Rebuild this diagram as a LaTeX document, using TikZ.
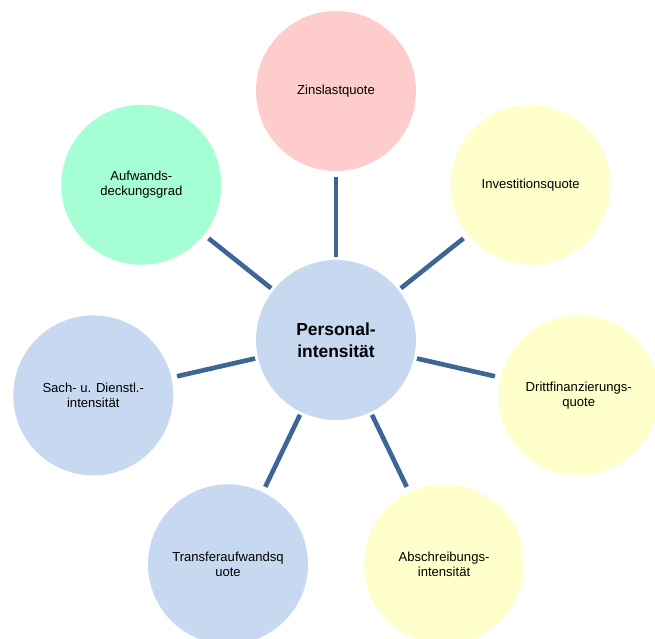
\documentclass[tikz,border=0pt]{standalone}
\usepackage{fontspec}
\setmainfont{Liberation Sans}
\usetikzlibrary{positioning}

\definecolor{kreisblau}{RGB}{198,217,241}
\definecolor{kreisrosa}{RGB}{255,204,204}
\definecolor{kreisgelb}{RGB}{255,255,204}
\definecolor{kreisgruen}{RGB}{166,255,212}
\definecolor{speichenblau}{RGB}{61,101,150}

\begin{document}
\begin{tikzpicture}
	\tikzset{kreis/.style={circle, fill=#1, minimum size=4cm, inner sep=0pt, outer sep=0pt, align=center, font=\fontsize{9.3}{10.6}\selectfont}, kreis/.default={kreisblau},
	speiche/.style={draw=speichenblau, line width=3.3pt, shorten <=0.075cm, shorten >=0.15cm}}

	\useasboundingbox (-8.4,-7.45) rectangle (7.975,8.5);

	% Mitte
	\node[kreis, font=\bfseries\fontsize{12.4}{15.5}\selectfont] (pers) at (0,0) {Personal-\\intensit\"at};

	% aussen, im Uhrzeigersinn
	\node[kreis=kreisrosa] (zins) at (90:6.225) {Zinslastquote};
	\node[kreis=kreisgelb] (invest) at (38.57:6.225) {Investitionsquote};
	\node[kreis=kreisgelb] (dritt) at (-12.86:6.225) {Drittfinanzierungs-\\quote};
	\node[kreis=kreisgelb] (abschr) at (-64.29:6.225) {Abschreibungs-\\intensit\"at};
	\node[kreis] (transfer) at (-115.71:6.225) {Transferaufwandsq\\uote};
	\node[kreis] (sach) at (-167.14:6.225) {Sach- u. Dienstl.-\\intensit\"at};
	\node[kreis=kreisgruen] (aufw) at (141.43:6.225) {Aufwands-\\deckungsgrad};

	\foreach \n in {zins,invest,dritt,abschr,transfer,sach,aufw}{
		\draw[speiche] (pers) -- (\n);
	}

\end{tikzpicture}
\end{document}
